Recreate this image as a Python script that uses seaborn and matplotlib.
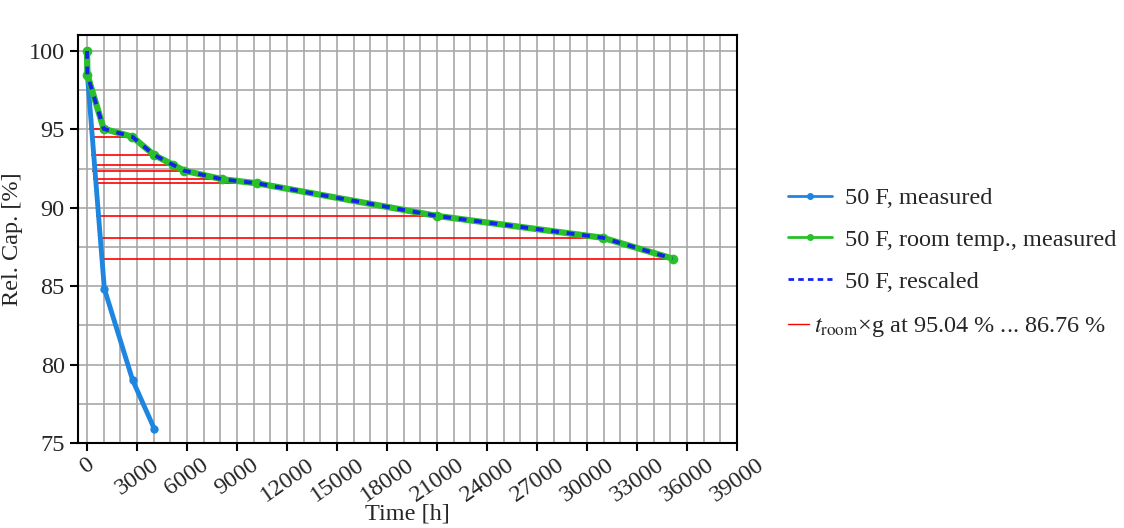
import numpy as np
import pandas as pd
import matplotlib
matplotlib.use('Agg')
import matplotlib.pyplot as plt
import seaborn as sns
from matplotlib.lines import Line2D
from matplotlib.ticker import MultipleLocator

# 50 F, measured
t_50f = [0, 24, 1040, 2740, 4040]
cap_50f = [100.0, 98.47, 84.84, 79.0, 75.9]

# 50 F, room temp., measured
t_room = [0, 24, 1000, 2720, 4020, 5180, 5820, 8120, 10220, 21000, 30940, 35140]
cap_room = [100.0, 98.47, 95.04, 94.53, 93.37, 92.73, 92.37, 91.82, 91.56, 89.48, 88.09, 86.76]

# 50 F, rescaled (lies on top of the room temp. curve)
t_resc = t_room
cap_resc = cap_room

# red lines: start time (50 F) for each capacity level from 95.04 % down to 86.76 %
red_start = [140, 180, 240, 300, 320, 380, 400, 540, 740, 1040]
red_cap = cap_room[2:]
red_end = t_room[2:]

sns.set_style('ticks')
plt.rcParams['font.family'] = ['Liberation Serif', 'DejaVu Serif']
plt.rcParams['mathtext.fontset'] = 'stix'
font_size = 17.5

c_meas = '#1f86e0'
c_room = '#2ac02a'
c_resc = '#1525e8'

fig, ax = plt.subplots(figsize=(11.24, 5.28), dpi=100)
fig.subplots_adjust(left=0.0694, right=0.6557, top=0.9337, bottom=0.161)

df_meas = pd.DataFrame({'t': t_50f, 'cap': cap_50f})
df_room = pd.DataFrame({'t': t_room, 'cap': cap_room})
df_resc = pd.DataFrame({'t': t_resc, 'cap': cap_resc})

ax.hlines(red_cap, red_start, red_end, color='red', lw=1.2, zorder=2)
sns.lineplot(data=df_meas, x='t', y='cap', ax=ax, color=c_meas, lw=3.5, marker='o',
             markersize=6, markeredgewidth=0, sort=False, zorder=3)
sns.lineplot(data=df_room, x='t', y='cap', ax=ax, color=c_room, lw=4.5, marker='o',
             markersize=7, markeredgewidth=0, sort=False, zorder=4)
sns.lineplot(data=df_resc, x='t', y='cap', ax=ax, color=c_resc, lw=2.8, sort=False,
             zorder=5, linestyle=(0, (2, 2)))

ax.set_xlim(-540, 39000)
ax.set_ylim(75, 101.02)
ax.xaxis.set_major_locator(MultipleLocator(3000))
ax.xaxis.set_minor_locator(MultipleLocator(1000))
ax.yaxis.set_major_locator(MultipleLocator(5))
ax.yaxis.set_minor_locator(MultipleLocator(2.5))
ax.grid(which='both', color='#a8a8a8', lw=1.2, zorder=0)
ax.set_axisbelow(True)
ax.tick_params(which='major', direction='out', length=6, width=1.5, labelsize=font_size, color='black')
ax.tick_params(axis='x', which='major', pad=2)
ax.tick_params(which='minor', length=0)
plt.setp(ax.get_xticklabels(), rotation=35)
for s in ax.spines.values():
    s.set_linewidth(1.5)
    s.set_color('black')

ax.set_xlabel('Time [h]', fontsize=font_size, labelpad=-2)
ax.set_ylabel('Rel. Cap. [%]', fontsize=font_size)

handles = [
    Line2D([], [], color=c_meas, lw=2, marker='o', markersize=4),
    Line2D([], [], color=c_room, lw=2, marker='o', markersize=4),
    Line2D([], [], color=c_resc, lw=2, linestyle=(0, (2, 1.5))),
]
labels = ['50 F, measured', '50 F, room temp., measured', '50 F, rescaled']
fig.legend(handles, labels, loc='center left', bbox_to_anchor=(0.692, 0.5455),
           frameon=False, fontsize=font_size, handlelength=1.85, handletextpad=0.5,
           labelspacing=0.82, borderaxespad=0)

# the red entry has a shorter handle in the reference
red_handle = [Line2D([], [], color='red', lw=1)]
red_label = [r'$t_\mathrm{room}$×g at 95.04 % ... 86.76 %']
fig.legend(red_handle, red_label, loc='center left', bbox_to_anchor=(0.692, 0.38),
           frameon=False, fontsize=font_size, handlelength=0.9, handletextpad=0.2,
           borderaxespad=0)

fig.savefig('out.png', dpi=100)
